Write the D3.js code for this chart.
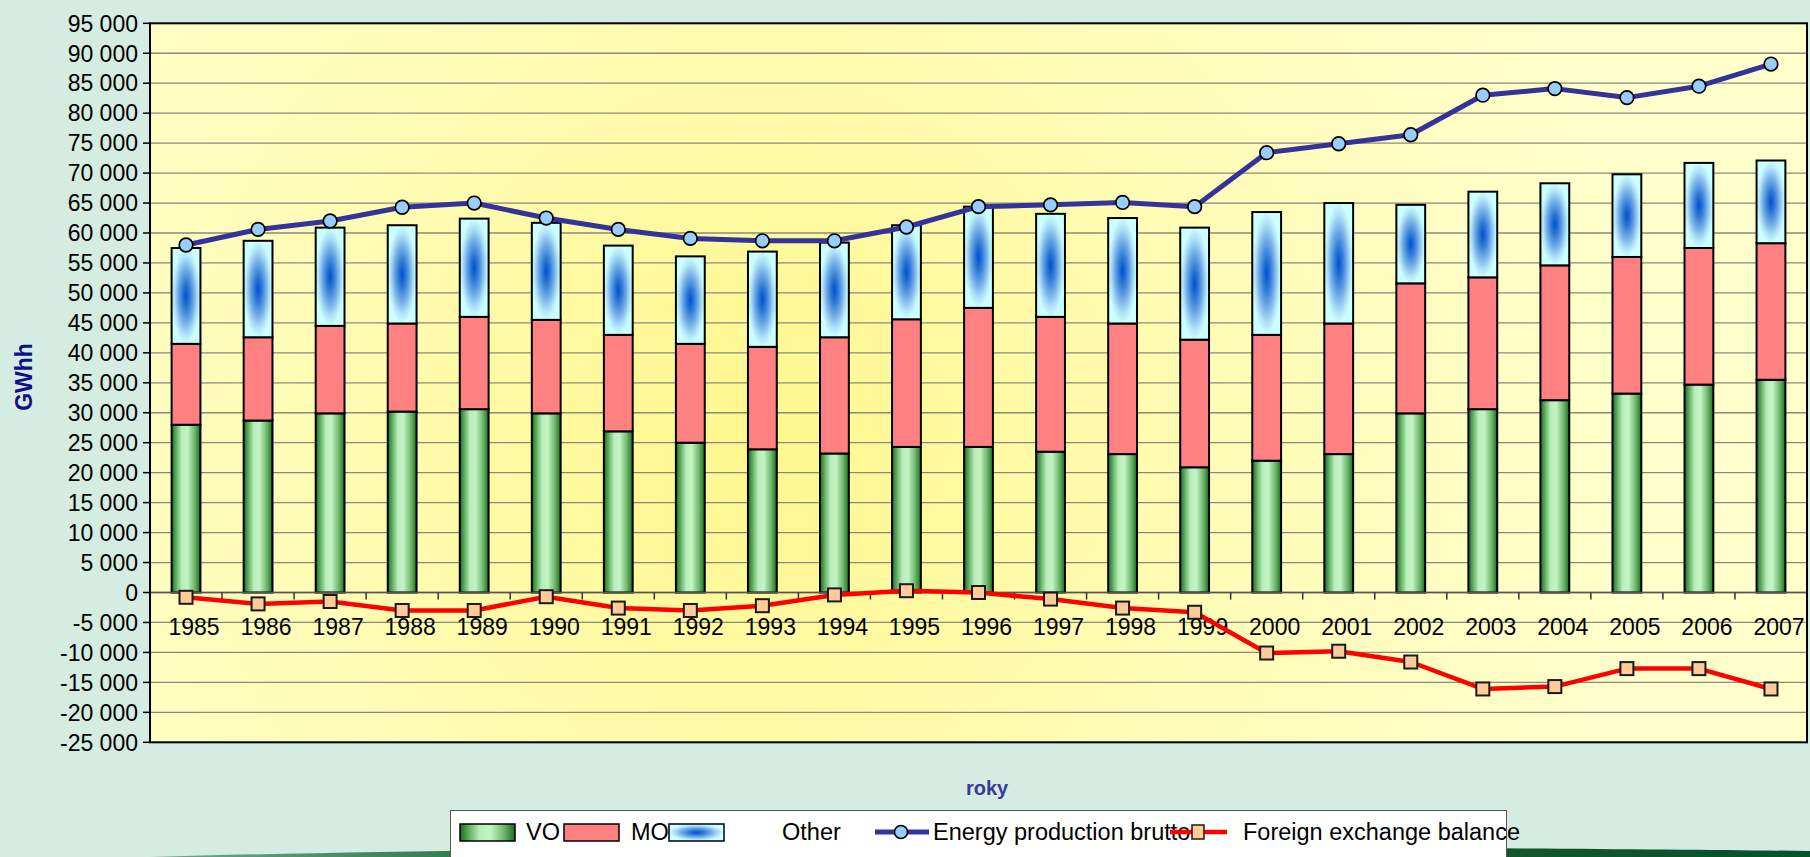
<!DOCTYPE html>
<html><head><meta charset="utf-8">
<script src="https://cdn.jsdelivr.net/npm/d3@7"></script>
<style>
html,body{margin:0;padding:0;background:#D4ECE2;overflow:hidden;}
svg{display:block;font-family:"Liberation Sans",Arial,sans-serif;}
</style></head><body>
<svg id="chart" width="1810" height="857"></svg>
<script>
// ---- data ----
const years = ["1985","1986","1987","1988","1989","1990","1991","1992","1993","1994","1995","1996","1997","1998","1999","2000","2001","2002","2003","2004","2005","2006","2007"];
const vo = [28000,28700,29900,30200,30600,29900,26900,25000,23900,23200,24300,24300,23500,23100,20900,22000,23100,29900,30600,32100,33200,34700,35500];
const mo = [13500,13900,14600,14700,15400,15600,16100,16500,17100,19400,21300,23200,22500,21800,21300,21000,21800,21700,22000,22500,22800,22800,22800];
const other = [16000,16100,16400,16400,16400,16200,14900,14600,15900,15800,15700,16900,17200,17600,18700,20500,20100,13100,14300,13700,13800,14200,13800];
const energy = [58000,60600,62000,64300,65000,62500,60600,59100,58700,58700,61000,64400,64700,65100,64400,73400,74900,76400,83000,84100,82600,84500,88200];
const exchange = [-800,-1900,-1500,-3000,-3000,-700,-2600,-3000,-2200,-400,300,0,-1100,-2600,-3300,-10100,-9800,-11600,-16100,-15700,-12700,-12700,-16100];
const yTicks = [-25000,-20000,-15000,-10000,-5000,0,5000,10000,15000,20000,25000,30000,35000,40000,45000,50000,55000,60000,65000,70000,75000,80000,85000,90000,95000];
const barKeys = ["VO","MO","Other"];
const lineNames = ["Energy production brutto","Foreign exchange balance"];
const yTitle = "GWhh";
const xTitle = "roky";

// ---- build table ----
const rows = years.map((y,i)=>({year:y, VO:vo[i], MO:mo[i], Other:other[i]}));

const svg = d3.select("#chart");
const P = {left:150, right:1807, top:23.3, bottom:742.3};

const x = d3.scaleBand().domain(years).range([P.left,P.right]).paddingInner(0.6).paddingOuter(0.3);
const y = d3.scaleLinear().domain([yTicks[0], yTicks[yTicks.length-1]]).range([P.bottom,P.top]);

const defs = svg.append("defs");
const bg = defs.append("radialGradient").attr("id","plotBg").attr("gradientUnits","userSpaceOnUse")
  .attr("cx",760).attr("cy",430).attr("r",900);
bg.append("stop").attr("offset","0").attr("stop-color","#FFF78E");
bg.append("stop").attr("offset","0.55").attr("stop-color","#FFFCB8");
bg.append("stop").attr("offset","1").attr("stop-color","#FFFFCC");

const gg = defs.append("linearGradient").attr("id","greenG").attr("x1","0").attr("x2","1").attr("y1","0").attr("y2","0");
[["0","#1E6B1E"],["0.12","#4E9E4E"],["0.35","#B8EDB8"],["0.55","#C4F4C4"],["0.8","#6DB86D"],["1","#1E6B1E"]]
  .forEach(s=>gg.append("stop").attr("offset",s[0]).attr("stop-color",s[1]));

const bgr = defs.append("radialGradient").attr("id","blueG").attr("cx","0.5").attr("cy","0.5").attr("r","0.62");
[["0","#0052CC"],["0.2","#2C76D6"],["0.45","#74AEE6"],["0.65","#AEE2F6"],["0.8","#CCFFFF"],["1","#CCFFFF"]]
  .forEach(s=>bgr.append("stop").attr("offset",s[0]).attr("stop-color",s[1]));

const sw = defs.append("linearGradient").attr("id","swoosh").attr("x1","0").attr("x2","1").attr("y1","0").attr("y2","0");
sw.append("stop").attr("offset","0").attr("stop-color","#6FA98A");
sw.append("stop").attr("offset","0.25").attr("stop-color","#1F6B3A");
sw.append("stop").attr("offset","1").attr("stop-color","#0B5128");

// bottom decorative swoosh
svg.append("path")
  .attr("d","M150,857 C400,850 700,847 1000,847 C1400,847 1650,849 1810,851 L1810,857 Z")
  .attr("fill","url(#swoosh)");

// plot background
svg.append("rect").attr("x",P.left).attr("y",P.top).attr("width",P.right-P.left).attr("height",P.bottom-P.top)
  .attr("fill","url(#plotBg)");

// gridlines
svg.append("g").selectAll("line").data(yTicks.filter(t=>t>yTicks[0] && t<yTicks[yTicks.length-1]))
  .join("line").attr("x1",P.left).attr("x2",P.right).attr("y1",d=>y(d)).attr("y2",d=>y(d))
  .attr("stroke","#8A8A7C").attr("stroke-width",1.3);

// y axis ticks and labels
const ya = svg.append("g");
ya.selectAll("line").data(yTicks).join("line")
  .attr("x1",143).attr("x2",P.left).attr("y1",d=>y(d)).attr("y2",d=>y(d))
  .attr("stroke","#000").attr("stroke-width",1.5);
const fmt = d=> d3.format(",")(d).replace(/,/g," ").replace("−","-");
ya.selectAll("text").data(yTicks).join("text")
  .attr("x",138).attr("y",d=>y(d)).attr("dy","0.36em").attr("text-anchor","end")
  .attr("font-size",23).attr("fill","#000").text(fmt);

// stacked bars
const stack = d3.stack().keys(barKeys)(rows);
const fills = {VO:"url(#greenG)", MO:"#FF8080", Other:"url(#blueG)"};
svg.append("g").selectAll("g").data(stack).join("g")
  .attr("fill",d=>fills[d.key])
  .selectAll("rect").data(d=>d).join("rect")
  .attr("x",d=>x(d.data.year)).attr("width",x.bandwidth())
  .attr("y",d=>y(d[1])).attr("height",d=>y(d[0])-y(d[1]))
  .attr("stroke","#000").attr("stroke-width",2);

// zero axis line and category ticks
svg.append("line").attr("x1",P.left).attr("x2",P.right).attr("y1",y(0)).attr("y2",y(0))
  .attr("stroke","#555").attr("stroke-width",1.5);
const step = x.step();
svg.append("g").selectAll("line").data(years.slice(1)).join("line")
  .attr("x1",d=>x(d)+x.bandwidth()/2-step/2).attr("x2",d=>x(d)+x.bandwidth()/2-step/2)
  .attr("y1",y(0)).attr("y2",y(0)+7).attr("stroke","#333").attr("stroke-width",1.5);

// year labels
svg.append("g").selectAll("text").data(years).join("text")
  .attr("x",d=>x(d)+x.bandwidth()/2+8).attr("y",635).attr("text-anchor","middle")
  .attr("font-size",23).attr("fill","#000").text(d=>d);

// lines
const cx = (d,i)=>x(years[i])+x.bandwidth()/2;
const line = d3.line().x(cx).y(d=>y(d));
svg.append("path").datum(energy).attr("d",line).attr("fill","none")
  .attr("stroke","#333399").attr("stroke-width",5).attr("stroke-linejoin","round");
svg.append("path").datum(exchange).attr("d",line).attr("fill","none")
  .attr("stroke","#FF0000").attr("stroke-width",4.5).attr("stroke-linejoin","round");
svg.append("g").selectAll("circle").data(energy).join("circle")
  .attr("cx",cx).attr("cy",d=>y(d)).attr("r",6.8)
  .attr("fill","#99CCFF").attr("stroke","#000").attr("stroke-width",1.7);
svg.append("g").selectAll("rect").data(exchange).join("rect")
  .attr("x",(d,i)=>cx(d,i)-6.5).attr("y",d=>y(d)-6.5).attr("width",13).attr("height",13)
  .attr("fill","#FFCC99").attr("stroke","#1a1a1a").attr("stroke-width",2);

// plot border
svg.append("rect").attr("x",P.left).attr("y",P.top).attr("width",P.right-P.left).attr("height",P.bottom-P.top)
  .attr("fill","none").attr("stroke","#000").attr("stroke-width",2);

// axis titles
svg.append("text").attr("transform","translate(32,377) rotate(-90)").attr("text-anchor","middle")
  .attr("font-size",23).attr("font-weight","bold").attr("fill","#10108A").text(yTitle);
svg.append("text").attr("x",987).attr("y",795).attr("text-anchor","middle")
  .attr("font-size",20).attr("font-weight","bold").attr("fill","#3A3A9A").text(xTitle);

// legend
const L = svg.append("g");
L.append("rect").attr("x",450.5).attr("y",810.5).attr("width",1056).attr("height",60)
  .attr("fill","#FFFFFF").attr("stroke","#555").attr("stroke-width",1);
const ly = 832;
const swatches = [
  {x:460, fill:"url(#greenG)", label:barKeys[0], tx:526},
  {x:564, fill:"#FF8080", label:barKeys[1], tx:631},
  {x:669, fill:"url(#blueG)", label:barKeys[2], tx:782}
];
swatches.forEach(s=>{
  L.append("rect").attr("x",s.x).attr("y",ly-8).attr("width",55).attr("height",17)
    .attr("fill",s.fill).attr("stroke","#000").attr("stroke-width",1.5);
  L.append("text").attr("x",s.tx).attr("y",ly).attr("dy","0.36em").attr("font-size",23.5).attr("fill","#000").text(s.label);
});
L.append("line").attr("x1",875).attr("x2",929).attr("y1",ly).attr("y2",ly).attr("stroke","#333399").attr("stroke-width",5);
L.append("circle").attr("cx",901).attr("cy",ly).attr("r",6.5).attr("fill","#99CCFF").attr("stroke","#000").attr("stroke-width",1.5);
L.append("text").attr("x",933).attr("y",ly).attr("dy","0.36em").attr("font-size",23.5).attr("fill","#000").text(lineNames[0]);
L.append("line").attr("x1",1170).attr("x2",1227).attr("y1",ly).attr("y2",ly).attr("stroke","#FF0000").attr("stroke-width",4.5);
L.append("rect").attr("x",1192).attr("y",ly-7).attr("width",12).attr("height",14).attr("fill","#FFCC99").attr("stroke","#1a1a1a").attr("stroke-width",1.5);
L.append("text").attr("x",1243).attr("y",ly).attr("dy","0.36em").attr("font-size",23.5).attr("fill","#000").text(lineNames[1]);
</script>
</body></html>
